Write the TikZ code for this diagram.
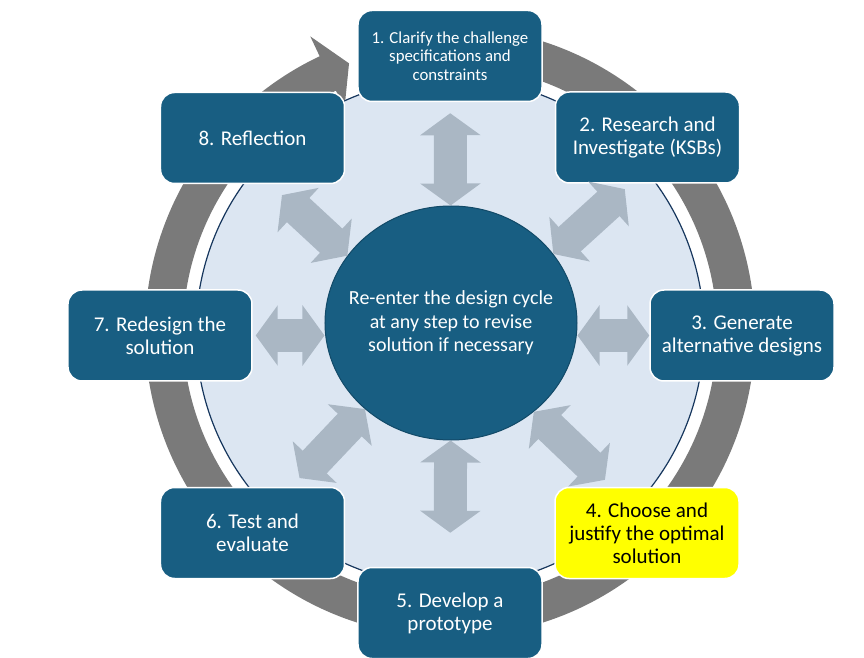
\documentclass[tikz,border=0pt]{standalone}
\usepackage{fontspec}
\setmainfont{Carlito}
\usetikzlibrary{arrows.meta,shapes.geometric}
\definecolor{stepblue}{HTML}{185E82}
\definecolor{hubline}{HTML}{124A68}
\definecolor{ringgray}{HTML}{7A7A7A}
\definecolor{arrowgray}{HTML}{AAB7C4}
\definecolor{paleblue}{HTML}{DCE6F2}
\definecolor{navyline}{HTML}{17375E}
\definecolor{pickyellow}{HTML}{FFFF00}
\begin{document}
\begin{tikzpicture}[x=1pt,y=1pt,
    stepbox/.style={draw=white, line width=1.5pt, fill=stepblue, rounded corners=14pt,
      minimum width=184pt, minimum height=91pt, inner sep=0pt, align=center,
      text=white, font=\fontsize{21}{23}\selectfont},
    pick/.style={fill=pickyellow, text=black},
    hubnode/.style={ellipse, draw=hubline, line width=1pt, fill=stepblue,
      minimum width=252pt, minimum height=234pt, inner xsep=-20pt, inner ysep=0pt,
      align=center, text=white, font=\fontsize{20}{23.5}\selectfont},
    both/.style={draw=arrowgray, line width=33pt,
      >={Triangle[width=60pt,length=22pt,line width=3pt]}, <->}]
  \useasboundingbox (-450,-326) rectangle (414,332);
  % cycle ring
  \fill[ringgray] (100:305) arc[start angle=100, end angle=-244.7, radius=305]
    -- (-244.7:327) -- (-249.4:287) -- (-244.7:247) -- (-244.7:267)
    arc[start angle=-244.7, end angle=100, radius=267] -- cycle;
  \draw[fill=paleblue, draw=navyline, line width=1.2pt] (0,0) circle[radius=254];
  \draw
    (1,9) node[hubnode] (c){Re-enter the design cycle\\at any step to revise\\solution if necessary}
    (0,276) node[stepbox, font=\fontsize{16.8}{18.7}\selectfont] (1){1. Clarify the challenge\\specifications and\\constraints}
    (197.5,194.5) node[stepbox] (2){2. Research and\\Investigate (KSBs)}
    (292,-3.5) node[stepbox] (3){3. Generate\\alternative designs}
    (197,-201) node[stepbox, pick] (4){4. Choose and\\justify the optimal\\solution}
    (0,-281) node[stepbox] (5){5. Develop a\\prototype}
    (-197.5,-201) node[stepbox] (6){6. Test and\\evaluate}
    (-290,-3.5) node[stepbox] (7){7. Redesign the\\solution}
    (-197.5,194) node[stepbox] (8){8. Reflection};
  \begin{scope}[both]
    \draw[shorten >=11pt] (c) to (1);
    \draw[shorten >=8pt] (c.34.7) to (2.250);
    \draw (c.east |- 3.west) to (3.west);
    \draw[shorten >=10pt] (c.-47) to (4.127);
    \draw[shorten >=34pt] (c) to (5);
    \draw[shorten >=12pt] (c.225) to (6.50);
    \draw[shorten >=3pt] (c.west |- 7.east) to (7.east);
    \draw[shorten >=16pt] (c.147.5) to (8.-69);
  \end{scope}
\end{tikzpicture}
\end{document}
